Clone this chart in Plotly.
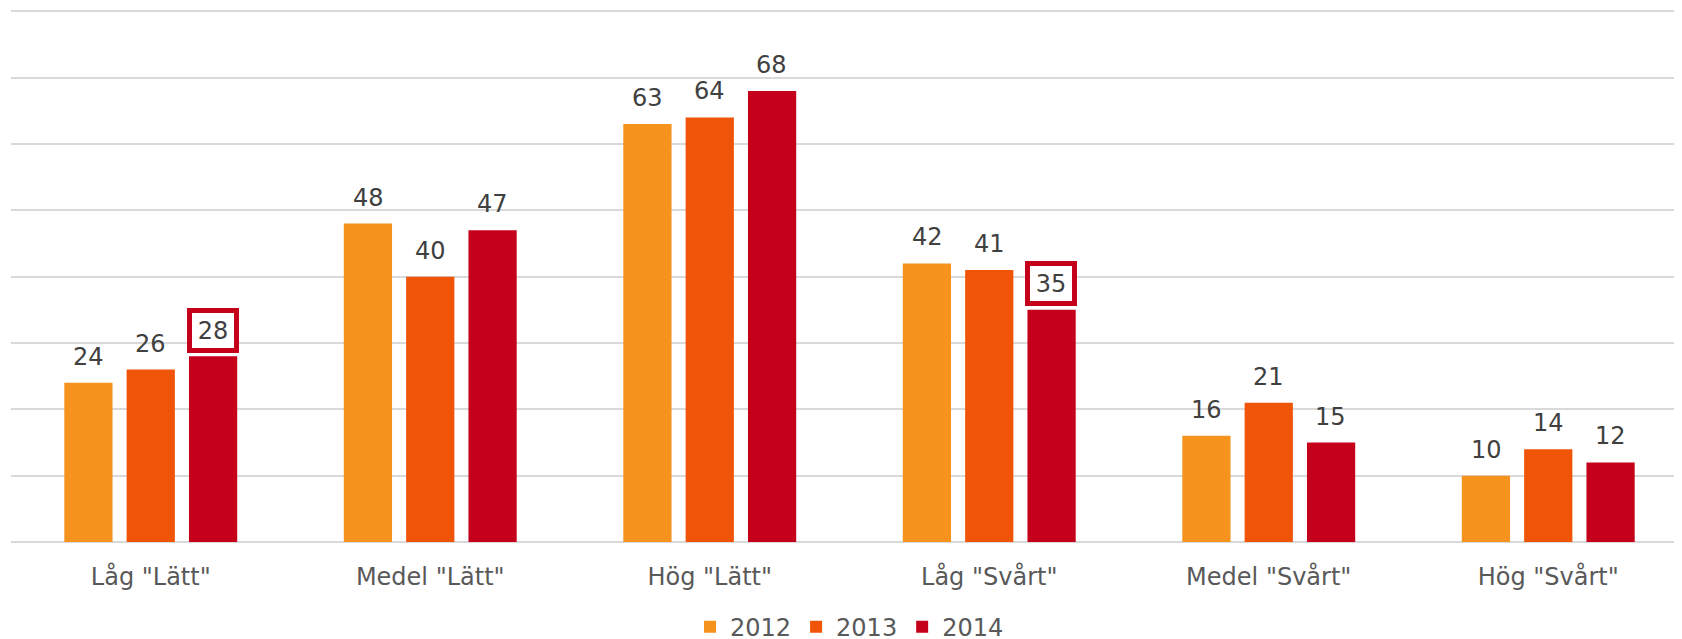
import plotly.graph_objects as go

categories = ['Låg "Lätt"', 'Medel "Lätt"', 'Hög "Lätt"', 'Låg "Svårt"', 'Medel "Svårt"', 'Hög "Svårt"']
years = ["2012", "2013", "2014"]
values_2012 = [24, 48, 63, 42, 16, 10]
values_2013 = [26, 40, 64, 41, 21, 14]
values_2014 = [28, 47, 68, 35, 15, 12]
highlight_2014 = [True, False, False, True, False, False]

series = [values_2012, values_2013, values_2014]
colors = ["#F6921E", "#F05406", "#C4001A"]
FONT = "DejaVu Sans"
label_color = "#404040"
axis_text_color = "#595959"

fig = go.Figure()
for name, vals, col in zip(years, series, colors):
    fig.add_trace(go.Bar(x=categories, y=vals, name=name, marker=dict(color=col, line=dict(width=0))))

shifts = [-62, 0, 62]
for si, vals in enumerate(series):
    for ci, v in enumerate(vals):
        boxed = si == 2 and highlight_2014[ci]
        ann = dict(x=categories[ci], y=v, xref="x", yref="y", text=str(v), showarrow=False,
                   xshift=shifts[si], yshift=26, yanchor="middle", xanchor="center",
                   font=dict(family=FONT, size=24, color=label_color))
        if boxed:
            ann.update(bordercolor="#C4001A", borderwidth=5, borderpad=3, bgcolor="white",
                       width=36, height=29)
        fig.add_annotation(**ann)

fig.update_layout(
    width=1682, height=639,
    margin=dict(l=3, r=2, t=2, b=105, autoexpand=False),
    plot_bgcolor="white", paper_bgcolor="white",
    barmode="group", bargap=0.331, bargroupgap=0.226,
    font=dict(family=FONT, size=24, color=axis_text_color),
    showlegend=True,
    legend=dict(orientation="h", x=0.5, xanchor="center", xref="paper",
                y=0.031, yanchor="middle", yref="container",
                font=dict(family=FONT, size=24, color=axis_text_color),
                itemwidth=30, traceorder="normal"),
    xaxis=dict(showgrid=False, showline=False, ticks="", ticklabelstandoff=18,
               tickfont=dict(family=FONT, size=24, color=axis_text_color)),
    yaxis=dict(range=[0, 80.2], dtick=10, showticklabels=False, showgrid=True,
               gridcolor="#D9D9D9", gridwidth=2, zeroline=True, zerolinecolor="#D9D9D9",
               zerolinewidth=2, showline=False),
)

fig.write_html("out.html")
